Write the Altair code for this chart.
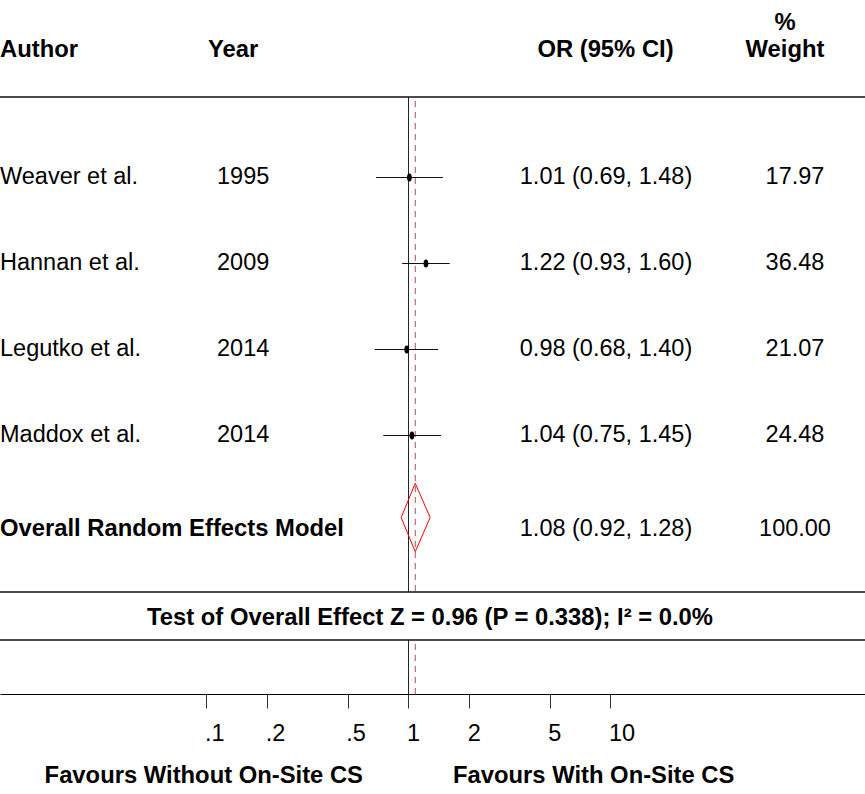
import altair as alt
import pandas as pd

# ---- study data -------------------------------------------------------------
authors = ["Weaver et al.", "Hannan et al.", "Legutko et al.", "Maddox et al."]
years = [1995, 2009, 2014, 2014]
odds_ratio = [1.01, 1.22, 0.98, 1.04]
ci_low = [0.69, 0.93, 0.68, 0.75]
ci_high = [1.48, 1.60, 1.40, 1.45]
weights = [17.97, 36.48, 21.07, 24.48]

pooled_label = "Overall Random Effects Model"
pooled_or = 1.08
pooled_low = 0.92
pooled_high = 1.28
pooled_weight = 100.00

test_text = "Test of Overall Effect Z = 0.96 (P = 0.338); I² = 0.0%"

tick_values = [0.1, 0.2, 0.5, 1, 2, 5, 10]
tick_labels = [".1", ".2", ".5", "1", "2", "5", "10"]

left_caption = "Favours Without On-Site CS"
right_caption = "Favours With On-Site CS"

# ---- layout -----------------------------------------------------------------
FONT = "Liberation Sans, Arial, Helvetica, sans-serif"
W, H = 865, 694            # plot area; the captions sit in the bottom padding
PX_PER_DECADE = 202
X_AT_ONE = 408.5
ROW0_PX, ROW_PX = 91.5, 86  # pixel of row 0 and spacing between rows
REG, BOLD = 23.5, 23.8

x_scale = alt.Scale(
    type="log",
    domain=[10 ** (-X_AT_ONE / PX_PER_DECADE), 10 ** ((W - X_AT_ONE) / PX_PER_DECADE)],
    nice=False,
)
y_scale = alt.Scale(
    domain=[(0 - ROW0_PX) / ROW_PX, (H - ROW0_PX) / ROW_PX],
    reverse=True, nice=False, zero=False,
)

label_expr = "".join(
    f"datum.value == {v} ? '{l}' : " for v, l in zip(tick_values, tick_labels)
) + "''"

x_axis = alt.Axis(
    values=tick_values, labelExpr=label_expr, title=None, grid=False,
    domainColor="black", domainWidth=1, tickColor="#333", tickSize=14, tickWidth=1,
    labelFont=FONT, labelFontSize=REG, labelColor="black", labelAlign="left",
    labelBaseline="alphabetic", labelPadding=32, labelOffset=-2, labelFlush=False,
    labelOverlap=False,
)

def X(field):
    return alt.X(field, type="quantitative", scale=x_scale, axis=x_axis)

def Y(field):
    return alt.Y(field, type="quantitative", scale=y_scale, axis=None)

studies = pd.DataFrame({
    "row": list(range(1, len(authors) + 1)),
    "author": authors,
    "year": [str(y) for y in years],
    "est": odds_ratio,
    "lo": ci_low,
    "hi": ci_high,
    "ci_text": [f"{e:.2f} ({l:.2f}, {h:.2f})" for e, l, h in zip(odds_ratio, ci_low, ci_high)],
    "w_text": [f"{w:.2f}" for w in weights],
})

POOLED_ROW = (517.5 - ROW0_PX) / ROW_PX
DIAMOND_HALF = 34.2 / ROW_PX
pooled = pd.DataFrame({
    "row": [POOLED_ROW],
    "label": [pooled_label],
    "ci_text": [f"{pooled_or:.2f} ({pooled_low:.2f}, {pooled_high:.2f})"],
    "w_text": [f"{pooled_weight:.2f}"],
})
diamond = pd.DataFrame({
    "x": [pooled_low, pooled_or, pooled_high, pooled_or, pooled_low],
    "y": [POOLED_ROW, POOLED_ROW - DIAMOND_HALF, POOLED_ROW,
          POOLED_ROW + DIAMOND_HALF, POOLED_ROW],
    "order": [0, 1, 2, 3, 4],
})

one = pd.DataFrame({"k": [0]})

def text_at(text, x, y, align="left", bold=False):
    return alt.Chart(one).mark_text(
        text=text, align=align, baseline="alphabetic", font=FONT,
        fontSize=BOLD if bold else REG, fontWeight="bold" if bold else "normal",
        color="black",
    ).encode(x=alt.value(x), y=alt.value(y))

def hline(y):
    return alt.Chart(one).mark_rule(color="#111", strokeWidth=1.6).encode(
        x=alt.value(0), x2=alt.value(W), y=alt.value(y))

def vline(value, y0, y1, **style):
    return alt.Chart(pd.DataFrame({"v": [value]})).mark_rule(**style).encode(
        x=X("v"), y=alt.value(y0), y2=alt.value(y1))

# ---- marks ------------------------------------------------------------------
ref_style = dict(color="#222", strokeWidth=1)
pool_style = dict(color="#a3505e", strokeWidth=1, strokeDash=[6, 5])

null_line = vline(1, 97, 592, **ref_style) + vline(1, 640, H, **ref_style)
pool_line = vline(pooled_or, 101, 592, **pool_style) + vline(pooled_or, 644, H, **pool_style)

ci_bars = alt.Chart(studies).mark_rule(color="#111", strokeWidth=1.1).encode(
    x=X("lo"), x2="hi", y=Y("row"))

ellipse = "M0,-1C0.45,-1,0.6,-0.55,0.6,0C0.6,0.55,0.45,1,0,1C-0.45,1,-0.6,0.55,-0.6,0C-0.6,-0.55,-0.45,-1,0,-1Z"
points = alt.Chart(studies).mark_point(
    shape=ellipse, size=64, filled=True, color="black", opacity=1).encode(
    x=X("est"), y=Y("row"))

diamond_mark = alt.Chart(diamond).mark_line(color="red", strokeWidth=1).encode(
    x=X("x"), y=Y("y"), order="order:Q")

def column(data, field, x, align, dy, bold=False):
    return alt.Chart(data).mark_text(
        align=align, baseline="alphabetic", dy=dy, font=FONT,
        fontSize=BOLD if bold else REG, fontWeight="bold" if bold else "normal",
        color="black",
    ).encode(x=alt.value(x), y=Y("row"), text=f"{field}:N")

study_text = (
    column(studies, "author", 0, "left", 6)
    + column(studies, "year", 217, "left", 6)
    + column(studies, "ci_text", 606, "center", 6)
    + column(studies, "w_text", 795, "center", 6)
)
pooled_text = (
    column(pooled, "label", 0, "left", 18.5, bold=True)
    + column(pooled, "ci_text", 606, "center", 18.5)
    + column(pooled, "w_text", 795, "center", 18.5)
)

headers = (
    text_at("Author", 0, 57, bold=True)
    + text_at("Year", 208, 57, bold=True)
    + text_at("OR (95% CI)", 605.5, 57, align="center", bold=True)
    + text_at("%", 785, 29.5, align="center", bold=True)
    + text_at("Weight", 785, 57, align="center", bold=True)
)

frame = hline(97) + hline(592) + hline(640)
test_row = text_at(test_text, 430, 625, align="center", bold=True)
captions = (
    text_at(left_caption, 363, 783, align="right", bold=True)
    + text_at(right_caption, 453, 783, align="left", bold=True)
)

chart = alt.layer(
    null_line, pool_line, frame, ci_bars, points, diamond_mark,
    study_text, pooled_text, headers, test_row, captions,
).properties(
    width=W, height=H,
    padding={"left": 0, "top": 0, "right": 0, "bottom": 100},
    autosize=alt.AutoSizeParams(type="none"),
    background="white",
).configure_view(stroke=None)

chart.save("out.html", embed_options={"renderer": "svg", "actions": False})
